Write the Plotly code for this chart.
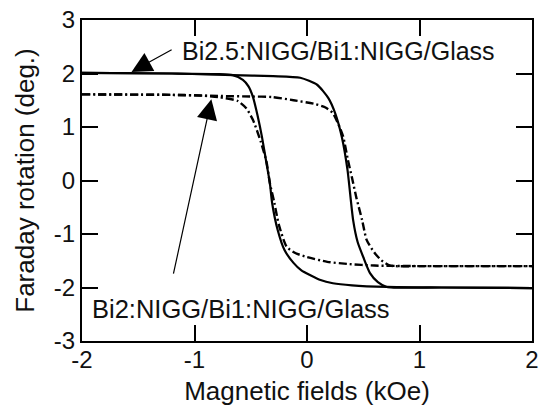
import plotly.graph_objects as go

# Bi2.5:NIGG/Bi1:NIGG/Glass (solid) - two branches of the loop
solid_left_x = [-2.0, -1.2, -0.80, -0.66, -0.57, -0.52, -0.48, -0.44, -0.40, -0.36, -0.33, -0.31,
                -0.26, -0.20, -0.12, -0.05, 0.03, 0.12, 0.23, 0.40, 0.71, 1.2, 2.0]
solid_left_y = [2.01, 2.0, 1.99, 1.97, 1.88, 1.76, 1.56, 1.22, 0.81, 0.32, -0.05, -0.42,
                -0.93, -1.30, -1.54, -1.68, -1.77, -1.86, -1.92, -1.96, -1.99, -2.0, -2.01]
solid_right_x = [-2.0, -1.2, -0.66, -0.30, -0.06, 0.09, 0.19, 0.25, 0.31, 0.36, 0.41,
                 0.45, 0.50, 0.56, 0.63, 0.71, 1.2, 2.0]
solid_right_y = [2.01, 2.0, 1.97, 1.95, 1.92, 1.79, 1.54, 1.26, 0.81, 0.20, -0.74,
                 -1.15, -1.43, -1.73, -1.90, -1.99, -2.0, -2.01]

# Bi2:NIGG/Bi1:NIGG/Glass (dash-dot)
dd_left_x = [-2.0, -1.2, -0.95, -0.79, -0.62, -0.54, -0.48, -0.41, -0.36, -0.33, -0.29, -0.25,
             -0.18, -0.10, 0.0, 0.18, 0.36, 0.6, 1.0, 2.0]
dd_left_y = [1.61, 1.60, 1.59, 1.56, 1.49, 1.35, 1.13, 0.72, 0.35, -0.05, -0.42, -0.83,
             -1.24, -1.36, -1.43, -1.52, -1.56, -1.59, -1.60, -1.60]
dd_right_x = [-2.0, -1.2, -0.79, -0.50, -0.31, -0.12, 0.07, 0.16, 0.23, 0.32, 0.36, 0.40,
              0.44, 0.49, 0.53, 0.60, 0.66, 0.74, 1.0, 2.0]
dd_right_y = [1.61, 1.60, 1.58, 1.57, 1.56, 1.50, 1.43, 1.37, 1.26, 0.83, 0.42, 0.05,
              -0.33, -0.74, -1.11, -1.35, -1.49, -1.59, -1.60, -1.60]

x_ticks = [-2, -1, 0, 1, 2]
y_ticks = [-3, -2, -1, 0, 1, 2, 3]

label_top = "Bi2.5:NIGG/Bi1:NIGG/Glass"
label_bottom = "Bi2:NIGG/Bi1:NIGG/Glass"

FONT = "Liberation Sans, Arial, sans-serif"

fig = go.Figure()
solid_line = dict(color="black", width=2.2, shape="spline", smoothing=0.6)
dd_line = dict(color="black", width=2.4, dash="8px,3px,2px,3px", shape="spline", smoothing=0.6)
fig.add_trace(go.Scatter(x=solid_left_x, y=solid_left_y, mode="lines", line=solid_line))
fig.add_trace(go.Scatter(x=solid_right_x, y=solid_right_y, mode="lines", line=solid_line))
fig.add_trace(go.Scatter(x=dd_left_x, y=dd_left_y, mode="lines", line=dd_line))
fig.add_trace(go.Scatter(x=dd_right_x, y=dd_right_y, mode="lines", line=dd_line))

axis_common = dict(
    showline=True, linecolor="black", linewidth=2, mirror="ticks",
    ticks="inside", ticklen=16, tickwidth=2, tickcolor="black",
    showgrid=False, zeroline=False, automargin=False,
    tickfont=dict(family=FONT, size=24, color="#111"),
)

fig.update_layout(
    width=541, height=406,
    margin=dict(l=82, r=9, t=20, b=65),
    paper_bgcolor="white", plot_bgcolor="white",
    showlegend=False,
    font=dict(family=FONT, color="#111"),
    xaxis=dict(range=[-2, 2], tickvals=x_ticks, ticktext=[str(v) for v in x_ticks],
               ticklabelstandoff=-4,
               title=dict(text="Magnetic fields (kOe)", font=dict(family=FONT, size=26), standoff=10),
               **axis_common),
    yaxis=dict(range=[-3, 3], tickvals=y_ticks, ticktext=[str(v) for v in y_ticks],
               title=dict(text="Faraday rotation (deg.)", font=dict(family=FONT, size=26), standoff=12),
               **axis_common),
)

fig.add_annotation(x=-1.13, y=2.42, xref="x", yref="y", text=label_top, showarrow=False,
                   xanchor="left", yanchor="middle", font=dict(family=FONT, size=25, color="#111"))
fig.add_annotation(x=-1.93, y=-2.40, xref="x", yref="y", text=label_bottom, showarrow=False,
                   xanchor="left", yanchor="middle", font=dict(family=FONT, size=25.5, color="#111"))
# arrows
fig.add_annotation(x=-1.56, y=2.03, ax=-1.19, ay=2.46, xref="x", yref="y", axref="x", ayref="y",
                   text="", showarrow=True, arrowhead=2, arrowsize=3.4, arrowwidth=1.2, arrowcolor="black")
fig.add_annotation(x=-0.85, y=1.52, ax=-1.19, ay=-1.77, xref="x", yref="y", axref="x", ayref="y",
                   text="", showarrow=True, arrowhead=2, arrowsize=3.4, arrowwidth=1.2, arrowcolor="black")

fig.write_html("out.html")
